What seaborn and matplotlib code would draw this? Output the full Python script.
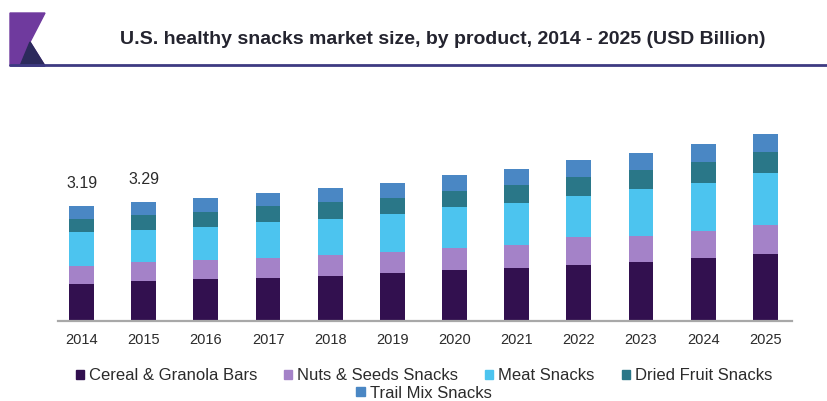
import matplotlib
matplotlib.use("Agg")
import matplotlib.pyplot as plt
import seaborn as sns
import numpy as np
import pandas as pd
from matplotlib.patches import Polygon
from matplotlib.lines import Line2D

years = ["2014", "2015", "2016", "2017", "2018", "2019",
         "2020", "2021", "2022", "2023", "2024", "2025"]
cereal_granola = [1.01, 1.10, 1.14, 1.19, 1.25, 1.33, 1.39, 1.46, 1.54, 1.63, 1.74, 1.84]
nuts_seeds = [0.51, 0.53, 0.54, 0.56, 0.58, 0.58, 0.62, 0.65, 0.77, 0.71, 0.75, 0.81]
meat = [0.93, 0.88, 0.91, 0.99, 0.99, 1.06, 1.14, 1.16, 1.15, 1.31, 1.34, 1.44]
dried_fruit = [0.37, 0.41, 0.43, 0.44, 0.46, 0.44, 0.44, 0.50, 0.52, 0.53, 0.57, 0.60]
trail_mix = [0.37, 0.37, 0.39, 0.37, 0.40, 0.40, 0.44, 0.43, 0.48, 0.46, 0.49, 0.49]
series_names = ["Cereal & Granola Bars", "Nuts & Seeds Snacks", "Meat Snacks",
                "Dried Fruit Snacks", "Trail Mix Snacks"]
total_labels = {"2014": "3.19", "2015": "3.29"}

colors = ["#32104f", "#a482c8", "#4cc4ef", "#2a7788", "#4a87c4"]

sns.set_style("white")
plt.rcParams["font.family"] = ["Liberation Sans", "DejaVu Sans"]

df = pd.DataFrame({"year": years, series_names[0]: cereal_granola,
                   series_names[1]: nuts_seeds, series_names[2]: meat,
                   series_names[3]: dried_fruit, series_names[4]: trail_mix})
cum = df[series_names].cumsum(axis=1)

fig = plt.figure(figsize=(8.28, 4.01), dpi=100)
W, H = 828, 401
base_px, top_px, unit_px = 320.5, 120, 36.0
ax = fig.add_axes([58 / W, 1 - base_px / H, (792 - 58) / W, (base_px - top_px) / H])

# stacked bars: draw cumulative totals from the top layer down
for name, col in reversed(list(zip(series_names, colors))):
    sns.barplot(x=df["year"], y=cum[name], color=col, width=0.4,
                saturation=1, ax=ax, linewidth=0, order=years)

ax.set_xlim(-0.38, 11.43)
ax.set_ylim(0, (base_px - top_px) / unit_px)
ax.set_xlabel("")
ax.set_ylabel("")
ax.set_yticks([])
for s in ["left", "right", "top"]:
    ax.spines[s].set_visible(False)
ax.spines["bottom"].set_color("#a8a8a8")
ax.spines["bottom"].set_linewidth(1.6)
ax.tick_params(axis="x", length=0, pad=9, labelsize=10.5, labelcolor="#2b2b2b")

totals = cum[series_names[-1]].values
for i, y in enumerate(years):
    if y in total_labels:
        ax.text(i, totals[i] + 0.42, total_labels[y], ha="center", va="bottom",
                fontsize=11.5, color="#2b2b2b")

# header
fig.text(443 / W, 1 - 40 / H, "U.S. healthy snacks market size, by product, 2014 - 2025 (USD Billion)",
         ha="center", va="center", fontsize=14, fontweight="bold", color="#24242f")
fig.add_artist(Line2D([10 / W, 1.0], [1 - 65 / H, 1 - 65 / H], color="#3d3a82", lw=2))
mark_main = Polygon([(10 / W, 1 - 13 / H), (45 / W, 1 - 13 / H), (30 / W, 1 - 42 / H),
                     (45 / W, 1 - 66 / H), (10 / W, 1 - 66 / H)],
                    closed=True, color="#6f3a9e", transform=fig.transFigure)
mark_dark = Polygon([(20 / W, 1 - 66 / H), (30 / W, 1 - 42 / H), (45 / W, 1 - 66 / H)],
                    closed=True, color="#2c2a5c", transform=fig.transFigure)
fig.add_artist(mark_main)
fig.add_artist(mark_dark)

# legend: four entries on the first row, the last one centred below
handles = [plt.Rectangle((0, 0), 1, 1, color=c) for c in colors]
leg_kw = dict(loc="center", frameon=False, fontsize=12, handlelength=0.5,
              handleheight=0.5, handletextpad=0.3, borderpad=0, borderaxespad=0)
leg1 = fig.legend(handles[:4], series_names[:4], ncol=4, columnspacing=1.6,
                  bbox_to_anchor=(424 / W, 1 - 376 / H), **leg_kw)
leg2 = fig.legend(handles[4:], series_names[4:], ncol=1,
                  bbox_to_anchor=(424 / W, 1 - 393 / H), **leg_kw)
for lg in (leg1, leg2):
    for t in lg.get_texts():
        t.set_color("#2b2b2b")

fig.savefig("out.png", dpi=100)
